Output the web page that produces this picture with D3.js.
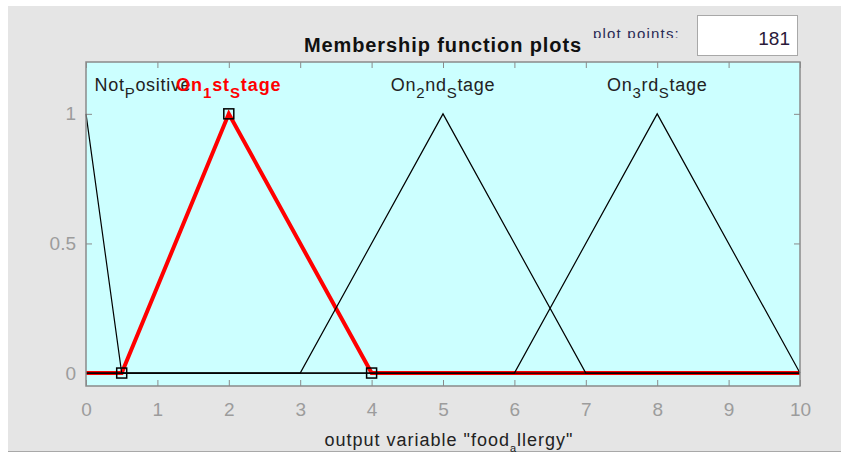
<!DOCTYPE html>
<html>
<head>
<meta charset="utf-8">
<script src="https://cdn.jsdelivr.net/npm/d3@7"></script>
<style>
  body { margin: 0; background: #fff; }
  svg { display: block; font-family: "Liberation Sans", Arial, sans-serif; }
</style>
</head>
<body>
<svg id="chart"></svg>
<script>
// membership functions of output variable "food_allergy" (vertices)
const notPositiveX = [0, 0.5, 10];
const notPositiveY = [1, 0, 0];
const on1stX = [0, 0.5, 2, 4, 10];
const on1stY = [0, 0, 1, 0, 0];
const on2ndX = [0, 3, 5, 7, 10];
const on2ndY = [0, 0, 1, 0, 0];
const on3rdX = [0, 6, 8, 10];
const on3rdY = [0, 0, 1, 0];
const selectedParams = [0.5, 2, 4];   // square markers on the selected MF

const xTicks = [0, 1, 2, 3, 4, 5, 6, 7, 8, 9, 10];
const yTicks = [0, 0.5, 1];
const plotPoints = 181;

const svgWidth = 841, svgHeight = 453;
const margin = { top: 62, right: 41, bottom: 67, left: 86 };
const width = svgWidth - margin.left - margin.right;
const height = svgHeight - margin.top - margin.bottom;

const svg = d3.select('#chart').attr('width', svgWidth).attr('height', svgHeight);

// figure background
svg.append('rect').attr('x', 8).attr('y', 6).attr('width', svgWidth - 8).attr('height', 445).attr('fill', '#e5e5e5');
svg.append('line').attr('x1', 8).attr('x2', svgWidth).attr('y1', 451.5).attr('y2', 451.5).attr('stroke', '#a8a8a8');

const x = d3.scaleLinear().domain([0, 10]).range([0, width]);
const y = d3.scaleLinear().domain([-0.05, 1.2]).range([height, 0]);

const g = svg.append('g').attr('transform', 'translate(' + margin.left + ',' + margin.top + ')');

g.append('rect').attr('width', width).attr('height', height).attr('fill', '#ccffff');

// ticks (inward on all four sides)
const tickColor = '#8a8a8a';
const xAxisB = g.append('g').attr('transform', 'translate(0,' + height + ')')
	.call(d3.axisBottom(x).tickValues(xTicks).tickSizeInner(-6).tickSizeOuter(0).tickPadding(17));
const xAxisT = g.append('g')
	.call(d3.axisTop(x).tickValues(xTicks).tickSizeInner(-6).tickSizeOuter(0).tickFormat(''));
const yAxisL = g.append('g')
	.call(d3.axisLeft(y).tickValues(yTicks).tickSizeInner(-6).tickSizeOuter(0).tickPadding(10).tickFormat(d3.format('')));
const yAxisR = g.append('g').attr('transform', 'translate(' + width + ',0)')
	.call(d3.axisRight(y).tickValues(yTicks).tickSizeInner(-6).tickSizeOuter(0).tickFormat(''));

[xAxisB, xAxisT, yAxisL, yAxisR].forEach((a) => {
	a.select('.domain').remove();
	a.selectAll('line').attr('stroke', tickColor);
	a.selectAll('text').attr('fill', '#9c9c9c').attr('font-size', 19).attr('font-family', '"Liberation Sans", Arial, sans-serif');
});

const line = d3.line().x((d) => x(d[0])).y((d) => y(d[1]));
const pts = (xs, ys) => xs.map((v, i) => [v, ys[i]]);

// selected MF in red, thick
g.append('path')
	.datum(pts(on1stX, on1stY))
	.attr('fill', 'none')
	.attr('stroke', '#ff0000')
	.attr('stroke-width', 4)
	.attr('d', line);

// other MFs in black
[pts(notPositiveX, notPositiveY), pts(on2ndX, on2ndY), pts(on3rdX, on3rdY)].forEach((d) => {
	g.append('path')
		.datum(d)
		.attr('fill', 'none')
		.attr('stroke', '#000')
		.attr('stroke-width', 1.2)
		.attr('d', line);
});

// square markers at selected MF parameters
g.selectAll('.marker')
	.data(selectedParams)
	.enter()
	.append('rect')
	.attr('x', (d) => x(d) - 5)
	.attr('y', (d) => y(on1stY[on1stX.indexOf(d)]) - 5)
	.attr('width', 10)
	.attr('height', 10)
	.attr('fill', 'none')
	.attr('stroke', '#000')
	.attr('stroke-width', 1.5);

// plot box
g.append('rect').attr('width', width).attr('height', height).attr('fill', 'none').attr('stroke', tickColor).attr('stroke-width', 1.5);

// MF labels with subscripts (the first two overlap in the original too)
const labels = [
	{ parts: [['Not', 0], ['P', 1], ['ositive', 0]], at: 0.12, anchor: 'start', color: '#222', bold: false },
	{ parts: [['On', 0], ['1', 1], ['st', 0], ['S', 1], ['tage', 0]], at: 2, anchor: 'middle', color: '#ff0000', bold: true },
	{ parts: [['On', 0], ['2', 1], ['nd', 0], ['S', 1], ['tage', 0]], at: 5, anchor: 'middle', color: '#222', bold: false },
	{ parts: [['On', 0], ['3', 1], ['rd', 0], ['S', 1], ['tage', 0]], at: 8, anchor: 'middle', color: '#222', bold: false }
];
labels.forEach((l) => {
	const t = g.append('text')
		.attr('x', x(l.at))
		.attr('y', y(1.088))
		.attr('text-anchor', l.anchor)
		.attr('fill', l.color)
		.attr('font-size', 18)
		.attr('letter-spacing', l.bold ? 0.9 : 0.7)
		.attr('font-weight', l.bold ? 'bold' : 'normal');
	let prevSub = 0;
	l.parts.forEach((p) => {
		t.append('tspan')
			.attr('dy', (p[1] - prevSub) * 7)
			.attr('font-size', p[1] ? 15 : 18)
			.text(p[0]);
		prevSub = p[1];
	});
});

// title
svg.append('text').attr('x', 443).attr('y', 52).attr('text-anchor', 'middle')
	.attr('font-size', 20).attr('font-weight', 'bold').attr('fill', '#111')
	.attr('letter-spacing', 0.9)
	.text('Membership function plots');

// plot points label (clipped at bottom like the original)
svg.append('clipPath').attr('id', 'ppclip')
	.append('rect').attr('x', 585).attr('y', 18).attr('width', 110).attr('height', 20);
svg.append('text').attr('x', 593).attr('y', 39).attr('clip-path', 'url(#ppclip)')
	.attr('font-size', 15).attr('fill', '#2a2a55').attr('letter-spacing', 1.2)
	.text('plot points:');

svg.append('rect').attr('x', 697.5).attr('y', 15.5).attr('width', 100).attr('height', 40)
	.attr('fill', '#fff').attr('stroke', '#a8a8a8');
svg.append('text').attr('x', 790).attr('y', 45).attr('text-anchor', 'end')
	.attr('font-size', 19).attr('fill', '#2a1a3a')
	.text(plotPoints);

// x label
const xl = svg.append('text').attr('x', 449).attr('y', 446).attr('text-anchor', 'middle')
	.attr('font-size', 18).attr('fill', '#222').attr('letter-spacing', 1);
xl.append('tspan').text('output variable "food');
xl.append('tspan').attr('dy', 6).attr('font-size', 11).text('a');
xl.append('tspan').attr('dy', -6).text('llergy"');
</script>
</body>
</html>
